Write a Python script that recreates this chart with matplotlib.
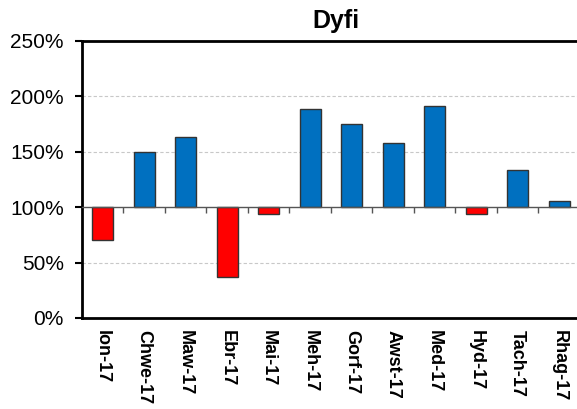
import matplotlib
matplotlib.use('Agg')
import matplotlib.pyplot as plt
import numpy as np

plt.rcParams['font.family'] = ['Liberation Sans', 'DejaVu Sans']

months = ['Ion-17', 'Chwe-17', 'Maw-17', 'Ebr-17', 'Mai-17', 'Meh-17',
          'Gorf-17', 'Awst-17', 'Med-17', 'Hyd-17', 'Tach-17', 'Rhag-17']
values = [70, 150, 163, 37, 94, 189, 175, 158, 191, 94, 134, 106]
baseline = 100
y_ticks = [0, 50, 100, 150, 200, 250]


def main():
    fig = plt.figure(figsize=(5.77, 4.09), dpi=100)
    ax = fig.add_axes([0.1421, 0.2225, 0.8631, 0.6773])

    x = np.arange(len(months))
    vals = np.array(values, dtype=float)
    colors = ['#0070C0' if v >= baseline else '#FF0000' for v in vals]
    ax.bar(x, vals - baseline, bottom=baseline, width=0.5, color=colors,
           edgecolor='#333333', linewidth=1, zorder=3)

    ax.set_xlim(-0.5, len(months) - 0.5)
    ax.set_ylim(0, 250)
    ax.set_yticks(y_ticks)
    ax.set_yticklabels([f'{t}%' for t in y_ticks], fontsize=15)
    ax.tick_params(axis='y', direction='out', length=5, width=1.5, pad=8)

    for g in [50, 150, 200]:
        ax.axhline(g, color='#c8c8c8', linestyle=(0, (3, 2)), linewidth=0.8, zorder=1)

    # category axis sits at 100%
    ax.spines['bottom'].set_position(('data', baseline))
    ax.spines['bottom'].set_color('#555555')
    ax.spines['bottom'].set_linewidth(1)
    ax.spines['bottom'].set_zorder(4)
    ax.set_xticks(x[:-1] + 0.5)
    ax.set_xticklabels([])
    ax.tick_params(axis='x', direction='out', length=4, width=1, color='#555555')

    for s in ['left', 'top', 'right']:
        ax.spines[s].set_linewidth(2)

    # labels along the 0% edge
    sec = ax.secondary_xaxis('bottom')
    sec.set_xticks(x)
    sec.set_xticklabels(months, rotation=270, fontsize=13, fontweight='bold')
    sec.tick_params(length=0, pad=9)
    sec.spines['bottom'].set_linewidth(2)

    fig.text(0.582, 0.948, 'Dyfi', ha='center', va='center',
             fontsize=18, fontweight='bold')

    fig.savefig('out.png', dpi=100)


if __name__ == '__main__':
    main()
